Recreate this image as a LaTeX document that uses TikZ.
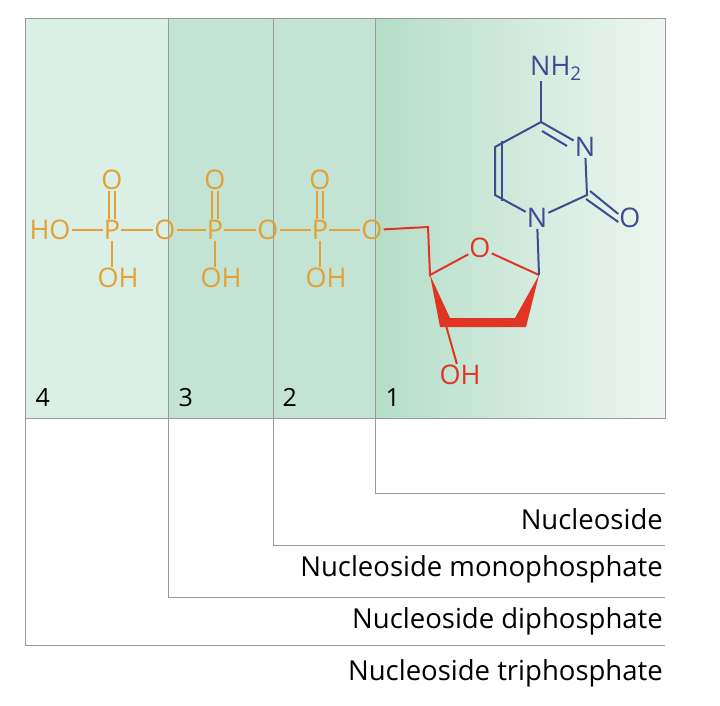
\documentclass[tikz,border=0pt]{standalone}
\usepackage{fontspec}
\setmainfont{Open Sans}
\usetikzlibrary{positioning}
\definecolor{phos}{HTML}{E5A033}
\definecolor{sugar}{HTML}{E03525}
\definecolor{base}{HTML}{3A4D8F}
\definecolor{lightg}{HTML}{DAEFE5}
\definecolor{midg}{HTML}{C3E4D4}
\definecolor{deepg}{HTML}{B4DEC8}
\definecolor{paleg}{HTML}{EEF6F1}
\tikzset{
    atomp/.style = {inner sep=1pt, text=phos, font=\fontsize{27}{27}\selectfont},
    atoms/.style = {inner sep=1pt, text=sugar, font=\fontsize{27}{27}\selectfont},
    atomb/.style = {inner sep=1pt, text=base, font=\fontsize{27}{27}\selectfont},
    bondp/.style = {phos, line width=2pt},
    bonds/.style = {sugar, line width=2pt},
    bondb/.style = {base, line width=2pt},
    frame/.style = {draw=gray!80, line width=1pt},
    lbl/.style = {anchor=base east, inner sep=2pt, font=\fontsize{27.5}{27.5}\selectfont},
    num/.style = {anchor=base west, font=\fontsize{25}{25}\selectfont}
}
\begin{document}
\begin{tikzpicture}[x=1pt,y=-1pt]
\useasboundingbox (0,0) rectangle (720,705);
% panels
\fill[lightg] (25,18) rectangle (168,418);
\fill[midg] (168,18) rectangle (375,418);
\shade[left color=deepg, right color=paleg] (375,18) rectangle (665,418);
\draw[frame] (25,18) rectangle (665,418);
\foreach \x in {168,273,375} \draw[frame] (\x,18) -- (\x,418);
% numbers
\node[num] at (32,406) {4};
\node[num] at (175,406) {3};
\node[num] at (279,406) {2};
\node[num] at (382,406) {1};
% brackets
\coordinate (b1) at (375,418); \coordinate (e1) at (665,493);
\coordinate (b2) at (273,418); \coordinate (e2) at (665,545);
\coordinate (b3) at (168,418); \coordinate (e3) at (665,597);
\coordinate (b4) at (25,418);  \coordinate (e4) at (665,645);
\foreach \i in {1,...,4} \draw[frame] (b\i) |- (e\i);
\node[lbl] at (e1 |- 0,529) {Nucleoside};
\node[lbl] at (e1 |- 0,576) {Nucleoside monophosphate};
\node[lbl] at (e1 |- 0,628) {Nucleoside diphosphate};
\node[lbl] at (e1 |- 0,680) {Nucleoside triphosphate};
% phosphates
\node[atomp] (ho) at (50,230) {HO};
\foreach \n/\x in {a/112,b/215,c/320} {
  \node[atomp] (p\n) at (\x,230) {P};
  \node[atomp] (d\n) at (\x,180) {O};
  \node[atomp] (h\n) at (\x+6,278) {OH};
  \draw[bondp] ([xshift=-3pt]p\n.north) -- ([xshift=-3pt]d\n.south);
  \draw[bondp] ([xshift=3pt]p\n.north) -- ([xshift=3pt]d\n.south);
  \draw[bondp] (p\n) -- (p\n |- h\n.north);
}
\node[atomp] (oa) at (165,230) {O};
\node[atomp] (ob) at (268,230) {O};
\node[atomp] (oc) at (372,230) {O};
\draw[bondp] (ho) -- (pa); \draw[bondp] (pa) -- (oa); \draw[bondp] (oa) -- (pb);
\draw[bondp] (pb) -- (ob); \draw[bondp] (ob) -- (pc); \draw[bondp] (pc) -- (oc);
% sugar
\coordinate (c5) at (428,227);
\coordinate (c4) at (430,275);
\node[atoms] (or) at (480,248) {O};
\coordinate (c1) at (539,275);
\coordinate (c2) at (520,322);
\coordinate (c3) at (445,322);
\node[atoms] (oh) at (460,375) {OH};
\draw[bonds] (oc) -- (c5) -- (c4) -- (or) -- (c1);
\fill[sugar] (c4) -- ([shift={(-5pt,-5pt)}]c3) -- ([shift={(6pt,-5pt)}]c2) -- (c1)
  -- ([shift={(-5pt,4pt)}]c2) -- ([shift={(5pt,4pt)}]c3) -- cycle;
\draw[bonds] (c3) -- (oh);
% base
\node[atomb] (n1) at (537,218) {N};
\coordinate (c2b) at (587,195);
\node[atomb] (ob2) at (630,218) {O};
\node[atomb] (n3) at (585,147) {N};
\coordinate (c4b) at (541,122);
\node[atomb] (nh) at (556,68) {NH\textsubscript{2}};
\coordinate (c5b) at (495,147);
\coordinate (c6b) at (495,195);
\coordinate (d1) at (542,131);
\coordinate (d2) at (567,146);
\draw[bondb] (c1) -- (n1);
\draw[bondb] (n1) -- (c2b) -- (n3) -- (c4b) -- (c5b) -- (c6b) -- (n1);
\draw[bondb] (c4b) -- (c4b |- nh.south);
\draw[bondb] ([shift={(-1pt,-4pt)}]c2b) -- ([shift={(0,-4pt)}]ob2.west);
\draw[bondb] ([shift={(3pt,4pt)}]c2b) -- ([shift={(0,4pt)}]ob2.west);
\draw[bondb] (d1) -- (d2);
\draw[bondb] ([shift={(7pt,6pt)}]c5b) -- ([shift={(7pt,-6pt)}]c6b);
\end{tikzpicture}
\end{document}
